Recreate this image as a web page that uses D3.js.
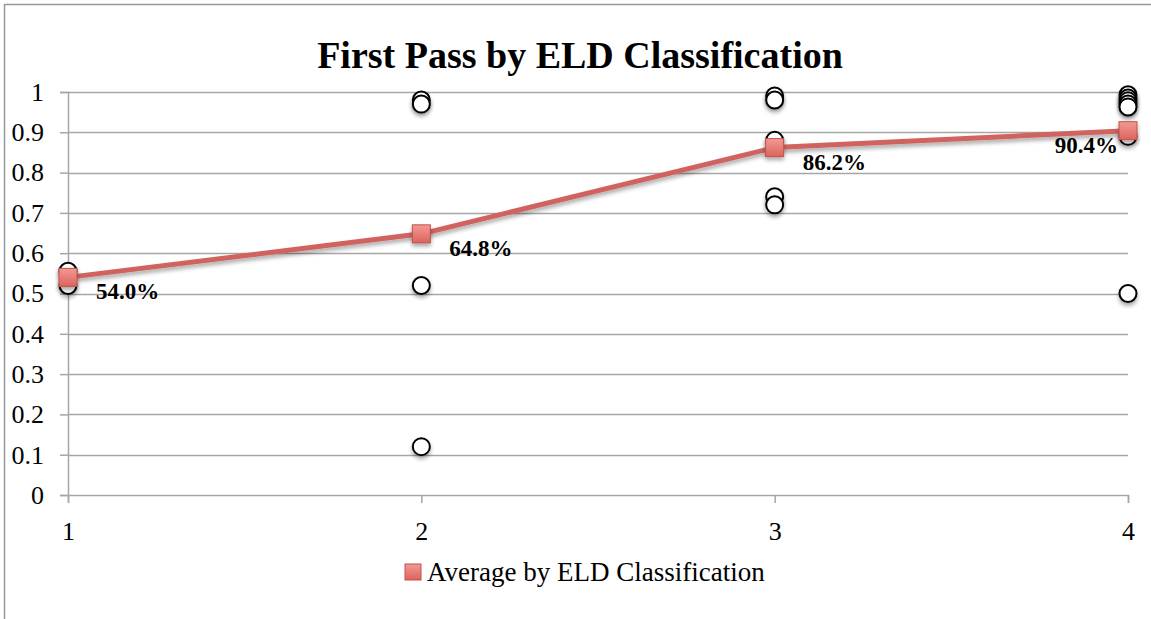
<!DOCTYPE html>
<html>
<head>
<meta charset="utf-8">
<script src="https://cdn.jsdelivr.net/npm/d3@7"></script>
<style>
  html, body { margin: 0; padding: 0; background: #fff; }
  svg { display: block; }
</style>
</head>
<body>
<svg id="chart" width="1151" height="619"></svg>
<script>
// ELD classification levels and individual first-pass rates
const classifications = [1, 2, 3, 4];
const pointClass = [1, 1, 2, 2, 2, 2, 3, 3, 3, 3, 3, 4, 4, 4, 4, 4, 4, 4];
const pointRate  = [0.555, 0.52, 0.98, 0.97, 0.52, 0.12, 0.99, 0.98, 0.88, 0.74, 0.72,
                    0.993, 0.985, 0.978, 0.97, 0.963, 0.89, 0.50];
// Average by classification
const averages = [0.540, 0.648, 0.862, 0.904];
const averageLabels = ["54.0%", "64.8%", "86.2%", "90.4%"];
const yTicks = [0, 0.1, 0.2, 0.3, 0.4, 0.5, 0.6, 0.7, 0.8, 0.9, 1];
const xTicks = [1, 2, 3, 4];
const titleText = "First Pass by ELD Classification";
const legendText = "Average by ELD Classification";

const svg = d3.select("#chart");
const serif = "'Liberation Serif', 'DejaVu Serif', serif";

const x = d3.scaleLinear().domain([1, 4]).range([68, 1128]);
const y = d3.scaleLinear().domain([0, 1]).range([495, 92]);

const defs = svg.append("defs");
const shadow = defs.append("filter").attr("id", "shadow")
  .attr("x", "-50%").attr("y", "-50%").attr("width", "200%").attr("height", "200%");
shadow.append("feGaussianBlur").attr("in", "SourceAlpha").attr("stdDeviation", 2).attr("result", "b");
shadow.append("feOffset").attr("in", "b").attr("dx", 0).attr("dy", 3).attr("result", "o");
shadow.append("feComponentTransfer").attr("in", "o").attr("result", "s")
  .append("feFuncA").attr("type", "linear").attr("slope", 0.35);
const merge = shadow.append("feMerge");
merge.append("feMergeNode").attr("in", "s");
merge.append("feMergeNode").attr("in", "SourceGraphic");

const grad = defs.append("linearGradient").attr("id", "sq")
  .attr("x1", 0).attr("y1", 0).attr("x2", 0).attr("y2", 1);
grad.append("stop").attr("offset", "0%").attr("stop-color", "#f29a94");
grad.append("stop").attr("offset", "100%").attr("stop-color", "#dc635c");

// outer frame
svg.append("rect").attr("x", 4.5).attr("y", 4.5).attr("width", 1160).attr("height", 640)
  .attr("fill", "none").attr("stroke", "#999").attr("stroke-width", 1.5);

// title
svg.append("text").attr("x", 580).attr("y", 68).attr("text-anchor", "middle")
  .attr("font-family", serif).attr("font-weight", "bold").attr("font-size", 38)
  .attr("fill", "#000").text(titleText);

// horizontal gridlines
svg.append("g").selectAll("line").data(yTicks.slice(1)).join("line")
  .attr("x1", x(1)).attr("x2", x(4))
  .attr("y1", d => Math.round(y(d)) + 0.5).attr("y2", d => Math.round(y(d)) + 0.5)
  .attr("stroke", "#a6a6a6").attr("stroke-width", 1.5);

// y axis
const yAxis = d3.axisLeft(y).tickValues(yTicks).tickSize(8).tickPadding(16)
  .tickFormat(d => d3.format("~g")(d));
const gy = svg.append("g").attr("transform", `translate(${x(1)},0)`).call(yAxis);
gy.select(".domain").attr("stroke", "#a6a6a6").attr("stroke-width", 1.5);
gy.selectAll(".tick line").attr("stroke", "#a6a6a6").attr("stroke-width", 1.5);
gy.selectAll(".tick text").attr("font-family", serif).attr("font-size", 26).attr("fill", "#000");

// x axis
const xAxis = d3.axisBottom(x).tickValues(xTicks).tickSize(8).tickPadding(19)
  .tickFormat(d3.format("d"));
const gx = svg.append("g").attr("transform", `translate(0,${y(0)})`).call(xAxis);
gx.select(".domain").attr("stroke", "#a6a6a6").attr("stroke-width", 1.5);
gx.selectAll(".tick line").attr("stroke", "#a6a6a6").attr("stroke-width", 1.5);
gx.selectAll(".tick text").attr("font-family", serif).attr("font-size", 26).attr("fill", "#000");

// individual points
const pts = pointClass.map((c, i) => ({ c, r: pointRate[i] }));
svg.append("g").selectAll("circle").data(pts).join("circle")
  .attr("cx", d => x(d.c)).attr("cy", d => y(d.r)).attr("r", 8.5)
  .attr("fill", "#fff").attr("stroke", "#000").attr("stroke-width", 2)
  .attr("filter", "url(#shadow)");

// average line
const avg = classifications.map((c, i) => ({ c, v: averages[i], label: averageLabels[i] }));
svg.append("path").datum(avg)
  .attr("d", d3.line().x(d => x(d.c)).y(d => y(d.v)))
  .attr("fill", "none").attr("stroke", "#d0645f").attr("stroke-width", 5)
  .attr("stroke-linejoin", "round").attr("filter", "url(#shadow)");

svg.append("g").selectAll("rect").data(avg).join("rect")
  .attr("x", d => x(d.c) - 9).attr("y", d => y(d.v) - 9)
  .attr("width", 18).attr("height", 18)
  .attr("fill", "url(#sq)").attr("stroke", "#c2514b").attr("stroke-width", 1)
  .attr("filter", "url(#shadow)");

// value labels
svg.append("g").selectAll("text").data(avg).join("text")
  .attr("x", (d, i) => i === avg.length - 1 ? x(d.c) - 10 : x(d.c) + 28)
  .attr("y", d => y(d.v) + 22)
  .attr("text-anchor", (d, i) => i === avg.length - 1 ? "end" : "start")
  .attr("font-family", serif).attr("font-weight", "bold").attr("font-size", 23)
  .attr("fill", "#000").text(d => d.label);

// legend
const lg = svg.append("g").attr("transform", "translate(405,564)");
lg.append("rect").attr("x", 0).attr("y", 0).attr("width", 16).attr("height", 16)
  .attr("fill", "url(#sq)").attr("stroke", "#c2514b").attr("stroke-width", 1);
lg.append("text").attr("x", 22).attr("y", 17).attr("font-family", serif)
  .attr("font-size", 27).attr("fill", "#000").text(legendText);
</script>
</body>
</html>
